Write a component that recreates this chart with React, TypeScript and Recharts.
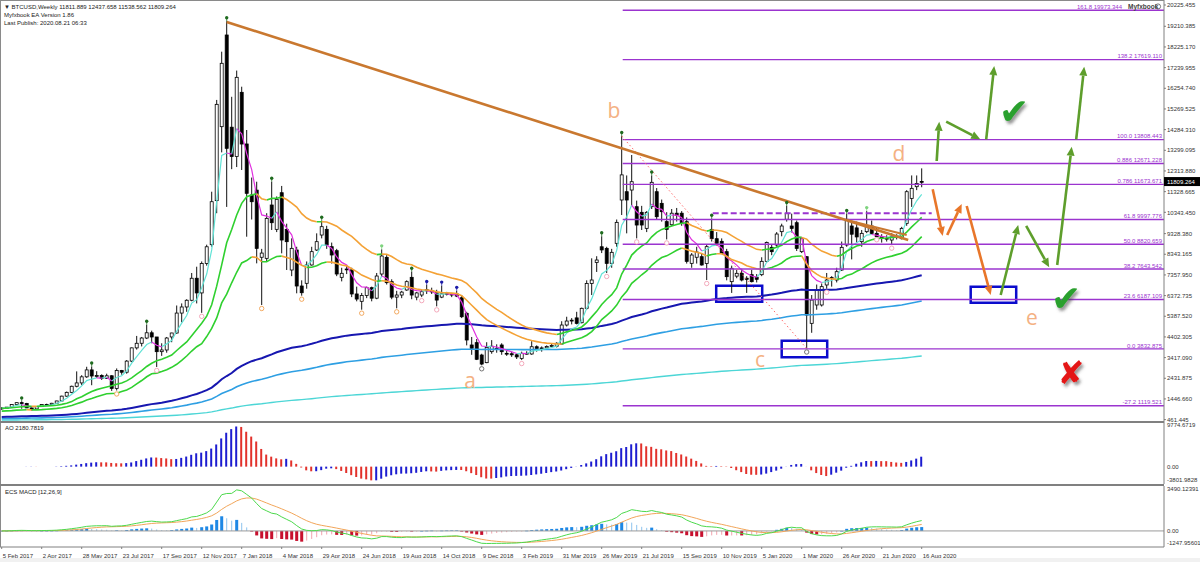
import React from 'react';
import {
  ComposedChart, Bar, Line, XAxis, YAxis, ReferenceLine, ReferenceArea, ReferenceDot, Cell,
} from 'recharts';

const FONT = "'Liberation Sans', Arial, sans-serif";

// weekly BTCUSD bars, 5 Feb 2017 .. 16 Aug 2020
const opens = [
  1010, 1000, 1055, 1180, 1270, 1230, 1020, 970, 1080, 1180, 1170, 1240, 1350, 1580, 1760, 2050, 2210, 2500, 2830, 2540,
  2560, 2430, 2550, 1950, 2800, 2720, 3250, 3880, 4100, 4350, 4600, 4400, 3700, 3780, 4400, 4590, 5540, 5830, 6150, 7200,
  6500, 7900, 8800, 10900, 14425, 18795, 14400, 13000, 16063, 13600, 11168, 11400, 8200, 8148, 10691, 9531, 11277, 9531, 7593, 8546,
  6830, 6958, 7832, 8546, 9260, 9531, 8705, 8514, 7243, 7640, 7600, 6450, 6100, 6380, 6750, 6250, 7402, 8196, 7037, 6300,
  6400, 6640, 7243, 6300, 6400, 6650, 6600, 6510, 6300, 6460, 6450, 6450, 6270, 5527, 4018, 4130, 3540, 3176, 3700, 3850,
  4018, 3620, 3600, 3550, 3380, 3620, 3590, 3935, 3850, 3880, 3950, 3960, 4066, 4970, 5160, 5310, 5080, 5766, 6950, 7950,
  8700, 8625, 7910, 8864, 10930, 11325, 11405, 10611, 10342, 9578, 10611, 11325, 10770, 9900, 9750, 10300, 10300, 9895, 7910, 8200,
  8228, 7900, 9530, 9085, 8960, 8467, 7037, 7300, 7435, 7200, 7370, 7250, 7370, 8006, 8673, 8784, 9420, 10010, 9690, 9848,
  8467, 8228, 5050, 5925, 5925, 6879, 7230, 7116, 7593, 8784, 9690, 9600, 8943, 9420, 9690, 9340, 9180, 9100, 9022, 9200,
  9085, 9816, 11007, 11565, 11811.889,
];
const highs = [
  1050, 1060, 1200, 1280, 1330, 1260, 1100, 1090, 1200, 1220, 1260, 1360, 1600, 1800, 2080, 2760, 2580, 2980, 2990, 2770,
  2620, 2650, 2580, 2900, 2830, 3300, 3900, 4450, 4400, 4980, 4700, 4400, 4100, 4400, 4600, 5900, 6000, 6200, 7450, 7750,
  8000, 8800, 11325, 15700, 18000, 19450, 15850, 17100, 16330, 14266, 12000, 11802, 8600, 10300, 11802, 11100, 11600, 9800, 9100, 8700,
  7100, 8000, 8700, 9340, 9940, 9700, 8900, 8600, 7700, 7800, 7700, 6800, 6500, 6800, 6800, 7450, 8577, 8300, 7150, 6600,
  6600, 7100, 7513, 6550, 6650, 6877, 6750, 6650, 6850, 6550, 6500, 6600, 6400, 5600, 4400, 4300, 3600, 4150, 4250, 4050,
  4100, 3750, 3700, 3600, 3700, 3720, 4200, 4000, 3950, 4000, 4100, 4150, 5150, 5365, 5300, 5600, 5800, 7100, 8150, 8250,
  9200, 8700, 8600, 10000, 13981, 12100, 13075, 10900, 10650, 10400, 12100, 11500, 10950, 10350, 10500, 10550, 10400, 10100, 8400, 8700,
  8400, 8800, 10033, 9400, 9100, 8600, 7800, 7600, 7650, 7300, 7600, 7400, 8200, 8950, 8800, 9400, 9800, 10644, 10280, 9950,
  9150, 8250, 6400, 6900, 6950, 7450, 7300, 7700, 8950, 10264, 9900, 9900, 9500, 10400, 9950, 9600, 9300, 9250, 9350, 9300,
  9650, 11400, 12100, 12100, 12437.658,
];
const lows = [
  930, 980, 1040, 1150, 980, 1010, 890, 930, 1060, 1140, 1160, 1230, 1340, 1550, 1720, 2000, 2100, 2450, 2100, 2450,
  2350, 2400, 1830, 1850, 2600, 2650, 3200, 3800, 3950, 4300, 4100, 2970, 3500, 3650, 4150, 4550, 5100, 5600, 6100, 6000,
  5550, 7800, 8700, 10300, 13200, 10600, 12400, 12500, 12360, 9180, 10000, 7910, 5924, 8000, 9500, 9400, 8387, 7593, 7300, 6481,
  6368, 6700, 7800, 8500, 9100, 8600, 7900, 7300, 7050, 7400, 6300, 6100, 5700, 6250, 6100, 6200, 7300, 6900, 6200, 5766,
  6250, 6600, 6200, 6150, 6300, 6450, 6450, 5860, 6250, 6380, 6300, 6300, 5300, 4000, 3550, 3300, 3050, 3150, 3600, 3650,
  3550, 3500, 3450, 3350, 3300, 3550, 3550, 3700, 3700, 3800, 3900, 3900, 4050, 4900, 5000, 5000, 5050, 5700, 6400, 7500,
  8400, 7450, 7700, 8700, 10214, 9340, 10690, 9100, 9500, 9400, 10500, 10000, 9900, 9050, 9700, 9900, 9700, 7900, 7700, 7900,
  7800, 7116, 8950, 8750, 8350, 7100, 6500, 7200, 7050, 6500, 7000, 7000, 7300, 7950, 8300, 8700, 9200, 9900, 9380, 8500,
  8400, 3850, 4600, 5700, 5850, 6700, 6800, 7000, 7550, 8700, 8100, 8900, 8700, 9350, 9300, 9200, 8900, 8950, 8800, 9050,
  9050, 9700, 10600, 11400, 11538.562,
];
const closes = [
  1000, 1055, 1180, 1270, 1230, 1020, 970, 1080, 1180, 1170, 1240, 1350, 1580, 1760, 2050, 2210, 2500, 2830, 2540, 2560,
  2430, 2550, 1950, 2800, 2720, 3250, 3880, 4100, 4350, 4600, 4400, 3700, 3780, 4350, 4590, 5540, 5830, 6150, 7200, 6500,
  7900, 8700, 10848, 15490, 17446, 13394, 13000, 16778, 13599, 11249, 10848, 8625, 8400, 10055, 9848, 10963, 9022, 8943, 8625, 6830,
  6510, 7832, 8467, 8943, 9658, 8784, 8308, 7402, 7435, 7600, 6450, 6208, 6380, 6750, 6250, 7306, 8260, 6989, 6300, 6400,
  6540, 7037, 6400, 6500, 6560, 6600, 6550, 6160, 6460, 6470, 6400, 6350, 5365, 4256, 3860, 3337, 3110, 3907, 3960, 3860,
  3700, 3600, 3550, 3450, 3620, 3600, 3935, 3850, 3880, 3950, 3990, 4100, 4970, 5160, 5200, 5050, 5766, 6950, 7116, 8069,
  8550, 7910, 8435, 9864, 12127, 10930, 11802, 9737, 9737, 10342, 11773, 10134, 10373, 9530, 10300, 10200, 9850, 8006, 8307, 8450,
  7832, 8705, 9085, 8864, 8387, 7275, 7672, 7435, 7116, 7150, 7037, 7150, 8006, 8900, 8467, 9308, 9690, 10295, 9578, 8625,
  9085, 5447, 6160, 6640, 6800, 7116, 7200, 7513, 8673, 10010, 9300, 9170, 9340, 9690, 9340, 9180, 9100, 9100, 9200, 9150,
  9578, 11325, 11485, 11720, 11809.264,
];

const dateLabels = [
  '5 Feb 2017', '2 Apr 2017', '28 May 2017', '23 Jul 2017', '17 Sep 2017', '12 Nov 2017', '7 Jan 2018', '4 Mar 2018',
  '29 Apr 2018', '24 Jun 2018', '19 Aug 2018', '14 Oct 2018', '9 Dec 2018', '3 Feb 2019', '31 Mar 2019', '26 May 2019',
  '21 Jul 2019', '15 Sep 2019', '10 Nov 2019', '5 Jan 2020', '1 Mar 2020', '26 Apr 2020', '21 Jun 2020', '16 Aug 2020',
];
const priceTicks = [
  20225.455, 19210.385, 18225.17, 17239.955, 16254.74, 15269.525, 14284.31, 13299.095, 12313.88, 11328.665, 10343.45,
  9328.38, 8343.165, 7357.95, 6372.735, 5387.52, 4402.305, 3417.09, 2431.875, 1446.66, 461.445,
];
const lastPrice = 11809.264;
const aoTicks = [9774.6719, 0, -3801.9828];
const macdTicks = [3490.12391, 0, -1247.95601];

// fibonacci retracement drawn from the Jun 2019 high
const fibNames = ['161.8', '138.2', '100.0', '0.886', '0.786', '61.8', '50.0', '38.2', '23.6', '0.0', '-27.2'];
const fibPrices = [19973.344, 17619.11, 13808.443, 12671.228, 11673.671, 9997.776, 8820.659, 7643.542, 6187.109, 3832.875, 1119.521];
const fibStartWeek = 124.2;

// trend lines [week1, price1, week2, price2]
const trendLines = [
  [45, 19415, 181.3, 9023],
  [169, 9976, 181, 9261],
];
const dottedLine = [124, 13981, 161, 3850];
const resistance = [142.2, 10295, 186, 10295];

// scenario arrows [week1, price1, week2, price2]
const greenArrows = [
  [187.0, 12789, 187.5, 14662],
  [188.9, 14662, 195.7, 13823],
  [196.9, 13823, 198.5, 17317],
  [199.8, 6402, 203.3, 9739],
  [204.9, 9691, 209.5, 7722],
  [211.1, 7831, 214.0, 13471],
  [214.9, 13823, 216.5, 17284],
];
const orangeArrows = [
  [186.2, 11440, 188.2, 9214],
  [189.1, 9262, 192.0, 10740],
  [193.0, 10645, 197.8, 6402],
];
// support boxes [week1, week2, priceLow, priceHigh]
const boxes = [
  [142.9, 152.1, 6081, 6844],
  [156.0, 165.1, 3431, 4222],
  [193.8, 202.9, 6034, 6797],
];

// swing markers (week index)
const greenTops = [4, 18, 29, 45, 54, 64, 82, 120, 124, 130, 142, 157, 169];
const lightGreenTops = [76, 173];
const blueTops = [85, 88, 91];
const orangeLows = [23, 52, 60, 72, 79];
const pinkLows = [31, 40, 84, 87, 104, 121, 127, 133, 141, 165, 175, 178];
const grayLows = [96, 161];

const X_DOMAIN: [number, number] = [-0.34, 232.46];
const PRICE_DOMAIN: [number, number] = [347.1, 20463.8];

function ema(values: number[], period: number, seed?: number) {
  const k = 2 / (period + 1);
  let prev = seed ?? values[0];
  return values.map((v) => (prev = prev + k * (v - prev)));
}

function sma(values: number[], period: number, i: number) {
  const s = Math.max(0, i - period + 1);
  let t = 0;
  for (let k = s; k <= i; k++) t += values[k];
  return t / (i - s + 1);
}

// split a line into rising / falling runs (A/B alternate so runs never join)
function slopeRuns(vals: number[]) {
  const n = vals.length;
  const out: Record<string, (number | null)[]> = {
    upA: Array(n).fill(null), upB: Array(n).fill(null), dnA: Array(n).fill(null), dnB: Array(n).fill(null),
  };
  let dir = 0, ups = 0, dns = 0, key = 'upA';
  for (let j = 1; j < n; j++) {
    const d = vals[j] >= vals[j - 1] ? 1 : -1;
    if (d !== dir) {
      key = d === 1 ? (ups++ % 2 === 0 ? 'upA' : 'upB') : (dns++ % 2 === 0 ? 'dnA' : 'dnB');
      dir = d;
    }
    out[key][j - 1] = vals[j - 1];
    out[key][j] = vals[j];
  }
  return out;
}

const fast = ema(closes, 5, 1000);
const bandHi = ema(highs, 21, 1000);
const bandLo = ema(lows, 21, 860);
const ema144 = ema(closes, 144, 580);
const ema233 = ema(closes, 233, 500);
const ema610 = ema(closes, 610, 435);

const median = highs.map((h, i) => (h + lows[i]) / 2);
const ao = median.map((_, i) => sma(median, 5, i) - sma(median, 34, i));
const ema12 = ema(closes, 12);
const ema26 = ema(closes, 26);
const macd = ema12.map((v, i) => v - ema26[i]);
const signal = ema(macd, 9);
const hist = macd.map((v, i) => v - signal[i]);

const colored = [
  { key: 'f', vals: fast, up: '#62E3D6', dn: '#E030E0', w: 1.2 },
  { key: 'bh', vals: bandHi, up: '#2FD02F', dn: '#F4A236', w: 1.6 },
  { key: 'bl', vals: bandLo, up: '#2FD02F', dn: '#F4A236', w: 1.6 },
];
const runs = colored.map((c) => slopeRuns(c.vals));

const rows = closes.map((c, i) => {
  const r: any = {
    i, o: opens[i], hi: highs[i], lo: lows[i], c, range: [lows[i], highs[i]],
    e144: ema144[i], e233: ema233[i], e610: ema610[i],
    ao: ao[i], aoUp: i === 0 || ao[i] >= ao[i - 1],
    macd: macd[i], signal: signal[i], hist: hist[i],
  };
  const hUp = i === 0 || hist[i] >= hist[i - 1];
  r.histColor = hist[i] >= 0 ? (hUp ? '#1E88E5' : '#8EC4EE') : (hUp ? '#F3A3AE' : '#C8102E');
  r.histStrong = hist[i] >= 0 ? hUp : !hUp;
  colored.forEach((cfg, ci) => {
    ['upA', 'upB', 'dnA', 'dnB'].forEach((k) => { r[cfg.key + k] = runs[ci][k][i]; });
  });
  return r;
});

const Candle = (p: any) => {
  const { x, y, width, height, payload } = p;
  if (x == null || y == null || !payload) return null;
  const top = Math.min(y, y + height);
  const h = Math.abs(height);
  const span = payload.hi - payload.lo || 1;
  const py = (v: number) => top + ((payload.hi - v) / span) * h;
  const cx = x + width / 2;
  const up = payload.c >= payload.o;
  const bTop = py(Math.max(payload.o, payload.c));
  const bBot = py(Math.min(payload.o, payload.c));
  return (
    <g>
      <line x1={cx} x2={cx} y1={top} y2={top + h} stroke="#111" strokeWidth={1} />
      <rect x={x} y={bTop} width={width} height={Math.max(bBot - bTop, 0.8)}
        fill={up ? '#fff' : '#000'} stroke="#000" strokeWidth={0.8} />
    </g>
  );
};

const HistBar = (p: any) => {
  const { x, y, width, height, payload } = p;
  if (x == null || y == null || !payload) return null;
  const top = Math.min(y, y + height);
  const w = payload.histStrong ? 3 : 1;
  return <rect x={x + width / 2 - w / 2} y={top} width={w} height={Math.max(Math.abs(height), 0.6)} fill={payload.histColor} />;
};

const PriceTick = (p: any) => {
  const v = p.payload.value;
  const y = p.y;
  if (v === lastPrice) {
    return (
      <g>
        <rect x={1164} y={y - 4.5} width={36} height={9} fill="#000" />
        <text x={1167} y={y + 2.2} fontSize={6} fill="#fff" fontFamily={FONT}>{v.toFixed(3)}</text>
      </g>
    );
  }
  return (
    <g>
      <line x1={1164} x2={1166} y1={y} y2={y} stroke="#666" strokeWidth={0.8} />
      <text x={1167} y={y + 2.2} fontSize={6} fill="#333" fontFamily={FONT}>{v.toFixed(3)}</text>
    </g>
  );
};

const sideTick = (labels: string[], values: number[]) => (p: any) => {
  const idx = values.indexOf(p.payload.value);
  const dy = idx === 0 ? 5 : idx === values.length - 1 ? -2 : 2.2;
  return (
    <text x={1167} y={p.y + dy} fontSize={6} fill="#333" fontFamily={FONT}>{labels[idx]}</text>
  );
};

const DateTick = (p: any) => (
  <text x={p.x + 1} y={p.y + 7} fontSize={6} fill="#333" fontFamily={FONT}>
    {dateLabels[Math.round(p.payload.value / 8)]}
  </text>
);

const arrowShape = (color: string) => (p: any) => {
  const { x1, y1, x2, y2 } = p;
  const dx = x2 - x1, dy = y2 - y1;
  const len = Math.hypot(dx, dy) || 1;
  const ux = dx / len, uy = dy / len;
  const head = 9, half = 4;
  const bx = x2 - ux * head, by = y2 - uy * head;
  return (
    <g>
      <line x1={x1} y1={y1} x2={bx} y2={by} stroke={color} strokeWidth={2.6} />
      <polygon points={`${x2},${y2} ${bx - uy * half},${by + ux * half} ${bx + uy * half},${by - ux * half}`} fill={color} />
    </g>
  );
};

// the top label is pushed left so it clears the watermark
const fibShape = (label: string, shift: number) => (p: any) => (
  <g>
    <line x1={p.x1} y1={p.y1} x2={p.x2} y2={p.y2} stroke="#9B34CF" strokeWidth={1.4} />
    <text x={p.x2 - 2 - shift} y={p.y1 - 1.3} textAnchor="end" fontSize={6} fill="#9B34CF" fontFamily={FONT}>{label}</text>
  </g>
);

const topMark = (color: string) => (p: any) => (
  <g>
    <line x1={p.cx} x2={p.cx} y1={p.cy} y2={p.cy - 3} stroke={color} strokeWidth={0.8} />
    <circle cx={p.cx} cy={p.cy - 3.5} r={1.7} fill={color} />
  </g>
);
const lowMark = (color: string) => (p: any) => (
  <circle cx={p.cx} cy={p.cy + 3.5} r={2.2} fill="#fff" stroke={color} strokeWidth={0.9} />
);

export default function App() {
  const peach = '#F4B183';
  return (
    <div style={{ position: 'absolute', left: 0, top: 0, width: 1200, height: 562, background: '#fff', overflow: 'hidden' }}>
      {/* price panel */}
      <div style={{ position: 'absolute', left: 0, top: 0 }}>
        <ComposedChart width={1200} height={422} data={rows} margin={{ top: 0, right: 0, bottom: 0, left: 0 }}>
          <XAxis type="number" dataKey="i" domain={X_DOMAIN} allowDataOverflow hide />
          <YAxis orientation="right" width={36} domain={PRICE_DOMAIN} allowDataOverflow
            ticks={[...priceTicks, lastPrice]} interval={0} tick={PriceTick} tickLine={false}
            axisLine={{ stroke: '#808080' }} />
          <Line dataKey="e610" stroke="#4CD6D6" strokeWidth={1.4} dot={false} isAnimationActive={false} />
          <Line dataKey="e233" stroke="#2E9FE3" strokeWidth={1.6} dot={false} isAnimationActive={false} />
          <Line dataKey="e144" stroke="#1717B0" strokeWidth={2} dot={false} isAnimationActive={false} />
          <Bar dataKey="range" barSize={3} shape={Candle} isAnimationActive={false} />
          {colored.flatMap((cfg) =>
            ['upA', 'upB', 'dnA', 'dnB'].map((k) => (
              <Line key={cfg.key + k} dataKey={cfg.key + k} stroke={k.startsWith('up') ? cfg.up : cfg.dn}
                strokeWidth={cfg.w} dot={false} isAnimationActive={false} />
            )))}

          {fibPrices.map((v, k) => (
            <ReferenceLine key={'fib' + k} segment={[{ x: fibStartWeek, y: v }, { x: X_DOMAIN[1], y: v }]}
              ifOverflow="visible" shape={fibShape(`${fibNames[k]} ${v.toFixed(3)}`, k === 0 ? 40 : 0)} />
          ))}
          <ReferenceLine segment={[{ x: resistance[0], y: resistance[1] }, { x: resistance[2], y: resistance[3] }]}
            ifOverflow="visible" stroke="#9B34CF" strokeWidth={2} strokeDasharray="6 3" />
          <ReferenceLine segment={[{ x: dottedLine[0], y: dottedLine[1] }, { x: dottedLine[2], y: dottedLine[3] }]}
            ifOverflow="visible" stroke="#FF6A6A" strokeWidth={1} strokeDasharray="1.5 2.5" />
          {trendLines.map((t, k) => (
            <ReferenceLine key={'tl' + k} segment={[{ x: t[0], y: t[1] }, { x: t[2], y: t[3] }]}
              ifOverflow="visible" stroke="#C9782F" strokeWidth={k === 0 ? 2.6 : 2} />
          ))}
          {boxes.map((b, k) => (
            <ReferenceArea key={'box' + k} x1={b[0]} x2={b[1]} y1={b[2]} y2={b[3]} ifOverflow="visible"
              fill="none" fillOpacity={0} stroke="#0B0BCC" strokeWidth={2.5} />
          ))}
          {greenArrows.map((a, k) => (
            <ReferenceLine key={'ga' + k} segment={[{ x: a[0], y: a[1] }, { x: a[2], y: a[3] }]}
              ifOverflow="visible" shape={arrowShape('#5E9E2C')} />
          ))}
          {orangeArrows.map((a, k) => (
            <ReferenceLine key={'oa' + k} segment={[{ x: a[0], y: a[1] }, { x: a[2], y: a[3] }]}
              ifOverflow="visible" shape={arrowShape('#E8762A')} />
          ))}
          {greenTops.map((i) => <ReferenceDot key={'gt' + i} x={i} y={highs[i]} ifOverflow="visible" shape={topMark('#1F6B1F')} />)}
          {lightGreenTops.map((i) => <ReferenceDot key={'lg' + i} x={i} y={highs[i]} ifOverflow="visible" shape={topMark('#7ED37E')} />)}
          {blueTops.map((i) => <ReferenceDot key={'bt' + i} x={i} y={highs[i]} ifOverflow="visible" shape={topMark('#1C1CA8')} />)}
          {orangeLows.map((i) => <ReferenceDot key={'ol' + i} x={i} y={lows[i]} ifOverflow="visible" shape={lowMark('#F0A050')} />)}
          {pinkLows.map((i) => <ReferenceDot key={'pl' + i} x={i} y={lows[i]} ifOverflow="visible" shape={lowMark('#F2A0B4')} />)}
          {grayLows.map((i) => <ReferenceDot key={'gl' + i} x={i} y={lows[i]} ifOverflow="visible" shape={lowMark('#666')} />)}
        </ComposedChart>
      </div>

      {/* AO panel */}
      <div style={{ position: 'absolute', left: 0, top: 422 }}>
        <ComposedChart width={1200} height={62} data={rows} margin={{ top: 0, right: 0, bottom: 0, left: 0 }}>
          <XAxis type="number" dataKey="i" domain={X_DOMAIN} allowDataOverflow hide />
          <YAxis orientation="right" width={36} domain={[aoTicks[2], aoTicks[0]]} allowDataOverflow ticks={aoTicks}
            interval={0} tick={sideTick(['9774.6719', '0.00', '-3801.9828'], aoTicks)} tickLine={false}
            axisLine={{ stroke: '#808080' }} />
          <Bar dataKey="ao" barSize={2} isAnimationActive={false}>
            {rows.map((r) => <Cell key={r.i} fill={r.aoUp ? '#1C1CD0' : '#E2312B'} />)}
          </Bar>
        </ComposedChart>
      </div>

      {/* MACD panel + date axis */}
      <div style={{ position: 'absolute', left: 0, top: 486 }}>
        <ComposedChart width={1200} height={76} data={rows} margin={{ top: 0, right: 0, bottom: 0, left: 0 }}>
          <XAxis type="number" dataKey="i" domain={X_DOMAIN} allowDataOverflow height={15}
            ticks={dateLabels.map((_, k) => k * 8)} interval={0} tick={DateTick}
            tickLine={{ stroke: '#808080' }} tickSize={2} axisLine={{ stroke: '#808080' }} />
          <YAxis orientation="right" width={36} domain={[macdTicks[2], macdTicks[0]]} allowDataOverflow ticks={macdTicks}
            interval={0} tick={sideTick(['3490.12391', '0.00', '-1247.95601'], macdTicks)} tickLine={false}
            axisLine={{ stroke: '#808080' }} />
          <ReferenceLine y={0} stroke="#9A9A9A" strokeWidth={1} />
          <Bar dataKey="hist" barSize={3} shape={HistBar} isAnimationActive={false} />
          <Line dataKey="signal" stroke="#F2A65A" strokeWidth={1} dot={false} isAnimationActive={false} />
          <Line dataKey="macd" stroke="#4CD94C" strokeWidth={1} dot={false} isAnimationActive={false} />
        </ComposedChart>
      </div>

      {/* frame */}
      <div style={{ position: 'absolute', left: 0, top: 0, width: 1164, height: 1, background: '#8a8a8a' }} />
      <div style={{ position: 'absolute', left: 0, top: 0, width: 1, height: 547, background: '#8a8a8a' }} />
      <div style={{ position: 'absolute', left: 0, top: 421, width: 1164, height: 2, background: '#808080' }} />
      <div style={{ position: 'absolute', left: 0, top: 484, width: 1164, height: 2, background: '#808080' }} />
      <div style={{ position: 'absolute', left: 0, top: 558, width: 1200, height: 4, background: '#f1f1f1' }} />

      {/* texts and badges */}
      <svg width={1200} height={562} style={{ position: 'absolute', left: 0, top: 0, pointerEvents: 'none' }}>
        <defs>
          <filter id="shadow" x="-30%" y="-30%" width="160%" height="160%">
            <feDropShadow dx="2" dy="3" stdDeviation="1.4" floodColor="#444" floodOpacity="0.55" />
          </filter>
        </defs>
        <g fontFamily={FONT} fontSize={6} fill="#222">
          <text x={4} y={9}>▼ BTCUSD,Weekly  11811.889 12437.658 11538.562 11809.264</text>
          <text x={4} y={17}>Myfxbook EA Version 1.86</text>
          <text x={4} y={25}>Last Publish: 2020.08.21 06:33</text>
          <text x={5} y={430}>AO 2180.7819</text>
          <text x={5} y={494}>ECS MACD [12,26,9]</text>
        </g>
        <circle cx={1158} cy={6.5} r={2.6} fill="none" stroke="#555" strokeWidth={0.8} />
        <text x={1128} y={9} fontFamily={FONT} fontSize={6.5} fontWeight="bold" fill="#444">Myfxbook</text>

        <g fontFamily="'Open Sans', 'Liberation Sans', sans-serif" fontSize={21} fill={peach}>
          <text x={470} y={388} textAnchor="middle">a</text>
          <text x={614} y={118} textAnchor="middle">b</text>
          <text x={760} y={367} textAnchor="middle">c</text>
          <text x={899} y={161} textAnchor="middle">d</text>
          <text x={1032} y={325} textAnchor="middle">e</text>
        </g>
        <g fontFamily="'DejaVu Sans', sans-serif" filter="url(#shadow)">
          <text x={1014} y={124} textAnchor="middle" fontSize={36} fill="#2AA02E">✔</text>
          <text x={1066} y={311} textAnchor="middle" fontSize={36} fill="#2AA02E">✔</text>
          <text x={1071} y={384} textAnchor="middle" fontSize={32} fill="#E41515">✘</text>
        </g>
      </svg>
    </div>
  );
}
